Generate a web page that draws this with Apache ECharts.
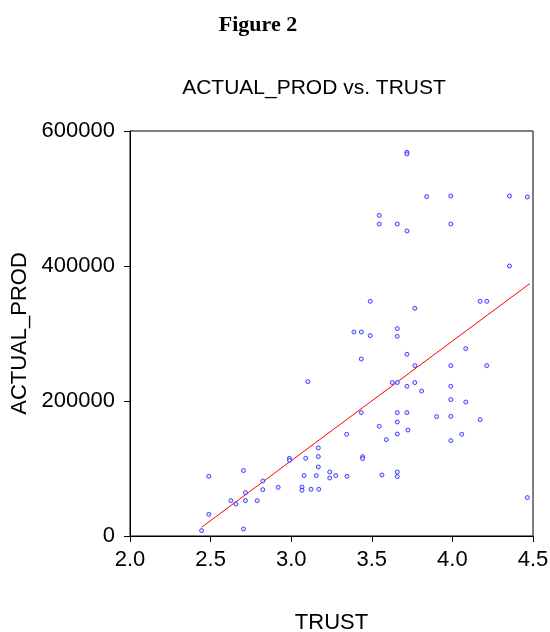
<!DOCTYPE html>
<html><head><meta charset="utf-8">
<script src="https://cdn.jsdelivr.net/npm/echarts@6/dist/echarts.min.js"></script>
<style>html,body{margin:0;padding:0;background:#fff}#c{width:550px;height:632px}</style>
</head><body><div id="c"></div>
<script>
const trust = [3.718,3.718,3.840,3.990,4.354,4.465,3.546,3.546,3.658,3.718,3.990,4.354,
3.490,3.767,4.172,4.213,3.389,3.435,3.490,3.658,3.658,3.718,3.435,4.083,3.767,3.990,4.213,
3.103,3.627,3.658,3.767,3.718,3.809,3.990,3.990,4.083,
3.435,3.658,3.718,3.902,3.990,4.172,3.546,3.658,3.344,3.658,3.724,3.590,3.990,4.058,
3.168,3.168,2.989,2.989,3.090,3.443,3.443,3.168,2.489,2.704,3.080,3.156,3.239,3.239,3.276,
3.346,3.563,3.658,3.658,2.824,2.919,2.824,3.067,3.067,3.123,3.171,2.716,2.626,2.716,2.789,
2.657,2.489,2.444,2.704,4.465];
const actualProd = [568400,566000,502800,503700,503700,502200,475100,462200,462200,451900,462200,400000,
347700,337300,347700,347700,302200,302200,296900,307300,295900,269200,262200,277600,252400,252400,252400,
228700,227300,227300,227300,221800,214800,221800,202100,198500,
182800,182800,182800,176900,177300,172400,162500,168900,150700,151100,157000,142800,141300,150700,
130400,117600,115100,112100,115100,117600,114700,102200,88400,96900,89500,89500,94800,85900,89500,
88400,90400,94800,88000,81500,72100,68700,72600,67700,69200,69200,64300,52400,52400,52400,
47400,32100,8000,10400,56900];
const fitX = [2.444, 4.48];
const fitY = [12900, 373900];
const xTicks = [2.0, 2.5, 3.0, 3.5, 4.0, 4.5];
const yTicks = [0, 200000, 400000, 600000];

const chart = echarts.init(document.getElementById('c'));
const pts = trust.map((t,i)=>[t, actualProd[i]]);
const fit = fitX.map((t,i)=>[t, fitY[i]]);
chart.setOption({
  animation:false,
  title:[
    {text:'Figure 2', left:253, top:9, textAlign:'center',
     textStyle:{fontFamily:'Liberation Serif', fontWeight:'bold', fontSize:22, color:'#000'}},
    {text:'ACTUAL_PROD vs. TRUST', left:309, top:73, textAlign:'center',
     textStyle:{fontFamily:'Liberation Sans', fontWeight:'normal', fontSize:21, color:'#000'}}
  ],
  grid:{left:130, right:17, top:131, bottom:96, outerBoundsMode:'none', containLabel:false,
    show:true, borderColor:'#000', borderWidth:1, backgroundColor:'#fff'},
  xAxis:{type:'value', min:xTicks[0], max:xTicks[xTicks.length-1], interval:0.5,
    name:'TRUST', nameLocation:'middle', nameGap:76,
    nameTextStyle:{fontFamily:'Liberation Sans', fontSize:22, color:'#000'},
    axisLine:{show:true, lineStyle:{color:'#000', width:1}},
    axisTick:{show:true, length:6, inside:false, lineStyle:{color:'#000'}},
    axisLabel:{fontFamily:'Liberation Sans', fontSize:22, color:'#000', margin:13, formatter:v=>v.toFixed(1)},
    splitLine:{show:false}},
  yAxis:{type:'value', min:yTicks[0], max:yTicks[yTicks.length-1], interval:200000,
    name:'ACTUAL_PROD', nameLocation:'middle', nameGap:88, nameRotate:90,
    nameTextStyle:{fontFamily:'Liberation Sans', fontSize:22, color:'#000'},
    axisLine:{show:true, lineStyle:{color:'#000', width:1}},
    axisTick:{show:true, length:6, inside:false, lineStyle:{color:'#000'}},
    axisLabel:{fontFamily:'Liberation Sans', fontSize:22, color:'#000', margin:15, formatter:v=>String(v)},
    splitLine:{show:false}},
  series:[
    {type:'scatter', data:pts, symbol:'circle', symbolSize:4,
     itemStyle:{color:'#dde0ff', borderColor:'#1a1aff', borderWidth:1}, z:3},
    {type:'line', data:fit, showSymbol:false, symbol:'none',
     lineStyle:{color:'#ff0000', width:1}, z:2}
  ]
});
</script></body></html>
